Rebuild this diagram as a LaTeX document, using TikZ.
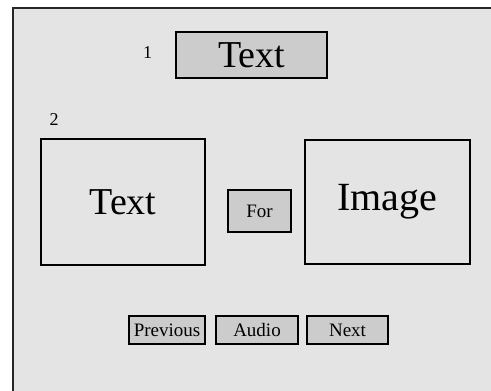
\documentclass[tikz,border=0pt]{standalone}
\usepackage{fontspec}
\setmainfont{Liberation Serif}
\definecolor{pagebg}{HTML}{E4E4E4}
\definecolor{btnfill}{HTML}{CCCCCC}
\begin{document}
\begin{tikzpicture}[x=1pt,y=-1pt,
  panel/.style={draw=black,line width=1.5pt,inner sep=0pt,outer sep=0pt},
  btn/.style={panel,fill=btnfill},
  lbl/.style={inner sep=0pt,font=\fontsize{18}{20}\selectfont}]
\useasboundingbox (0,0) rectangle (491,391);
\fill[white] (0,0) rectangle (491,391);
% screen area with frame on top and left
\fill[pagebg] (13,8) rectangle (491,391);
\draw[line width=2pt,black!85] (13,391) -- (13,8) -- (491,8);
% title
\node[lbl] (n1) at (147.5,53) {1};
\node[btn,minimum width=151pt,minimum height=46pt] (title) at (251.5,55)
  {\fontsize{38}{40}\selectfont Text};
% content row
\node[lbl] (n2) at (54,120) {2};
\node[panel,minimum width=164pt,minimum height=126pt] (txt) at (123,202)
  {\fontsize{38}{40}\selectfont Text};
\node[btn,minimum width=63pt,minimum height=42pt] (for) at (259.5,211)
  {\fontsize{19}{21}\selectfont For};
\node[panel,minimum width=165pt,minimum height=124pt] (img) at (387.5,202)
  {\raisebox{4pt}{\fontsize{40}{42}\selectfont Image}};
% navigation buttons
\node[btn,minimum width=76pt,minimum height=28pt] (prev) at (167,330)
  {\fontsize{19}{21}\selectfont Previous};
\node[btn,minimum width=82pt,minimum height=28pt] (audio) at (257,330)
  {\fontsize{19}{21}\selectfont Audio};
\node[btn,minimum width=81pt,minimum height=28pt] (next) at (347.5,330)
  {\fontsize{19}{21}\selectfont Next};
\end{tikzpicture}
\end{document}
